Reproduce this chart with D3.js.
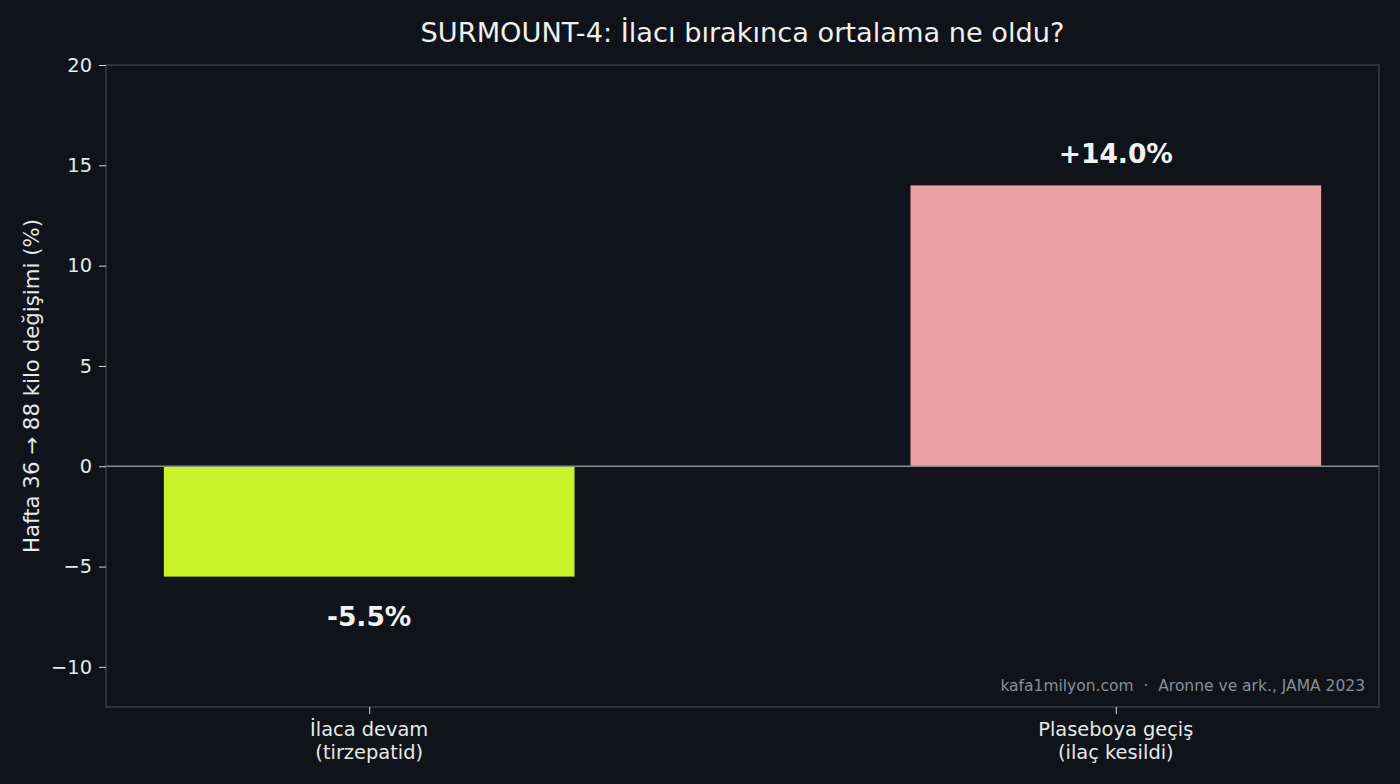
<!DOCTYPE html>
<html>
<head>
<meta charset="utf-8">
<script src="https://cdn.jsdelivr.net/npm/d3@7"></script>
<style>
  body { margin: 0; background: #10131a; }
  svg { display: block; font-family: "DejaVu Sans", sans-serif; }
</style>
</head>
<body>
<script>
// data
var categories = ["İlaca devam\n(tirzepatid)", "Plaseboya geçiş\n(ilaç kesildi)"];
var values = [-5.5, 14.0];
var barColors = ["#c9f229", "#e8a0a0"];
var valueLabels = ["-5.5%", "+14.0%"];
var yTicks = [-10, -5, 0, 5, 10, 15, 20];

var width = 1400, height = 784;
var border = { top: 65, bottom: 77, left: 106, right: 21 };

var svg = d3.select("body").append("svg")
  .attr("width", width)
  .attr("height", height);

svg.append("rect")
  .attr("width", width).attr("height", height)
  .attr("fill", "#10131a");

var plotW = width - border.left - border.right,
    plotH = height - border.top - border.bottom;

var g = svg.append("g")
  .attr("transform", "translate(" + border.left + "," + border.top + ")");

// x positions 0 and 1 like matplotlib, with its 5% margin around the bars
var barWidth = 0.55;
var lo = -barWidth / 2, hi = 1 + barWidth / 2, pad = (hi - lo) * 0.05;
var scaleX = d3.scaleLinear().domain([lo - pad, hi + pad]).range([0, plotW]);
var scaleY = d3.scaleLinear().domain([-12, 20]).range([plotH, 0]);

// bars
g.selectAll("rect.bar")
  .data(values)
  .enter().append("rect")
  .attr("class", "bar")
  .attr("x", (d, i) => scaleX(i - barWidth / 2))
  .attr("width", scaleX(barWidth) - scaleX(0))
  .attr("y", d => scaleY(Math.max(0, d)))
  .attr("height", d => Math.abs(scaleY(d) - scaleY(0)))
  .attr("fill", (d, i) => barColors[i]);

// zero line
g.append("line")
  .attr("x1", 0).attr("x2", plotW)
  .attr("y1", scaleY(0)).attr("y2", scaleY(0))
  .attr("stroke", "#8c8c8c")
  .attr("stroke-width", 1.5);

// value labels
g.selectAll("text.val")
  .data(values)
  .enter().append("text")
  .attr("class", "val")
  .attr("x", (d, i) => scaleX(i))
  .attr("y", d => d >= 0 ? scaleY(d) - 22 : scaleY(d) + 49)
  .attr("text-anchor", "middle")
  .attr("fill", "#f2f2f2")
  .style("font-weight", "bold")
  .style("font-size", "26.5px")
  .text((d, i) => valueLabels[i]);

// frame
g.append("rect")
  .attr("width", plotW).attr("height", plotH)
  .attr("fill", "none")
  .attr("stroke", "#3b3e47")
  .attr("stroke-width", 1.5);

// y axis
var yAxis = d3.axisLeft(scaleY)
  .tickValues(yTicks)
  .tickSize(7)
  .tickPadding(7)
  .tickFormat(d => d < 0 ? "\u2212" + Math.abs(d) : d);
var ya = g.append("g").attr("class", "y axis").call(yAxis);
ya.select(".domain").remove();
ya.selectAll("line").attr("stroke", "#d8d8d8");
ya.selectAll("text")
  .attr("fill", "#e8e8e8")
  .style("font-size", "19.4px")
  .style("font-family", "DejaVu Sans");

// x axis
var xAxis = d3.axisBottom(scaleX)
  .tickValues([0, 1])
  .tickSize(7)
  .tickFormat("");
var xa = g.append("g").attr("class", "x axis")
  .attr("transform", "translate(0," + plotH + ")")
  .call(xAxis);
xa.select(".domain").remove();
xa.selectAll("line").attr("stroke", "#d8d8d8");

// x tick labels, two lines each
var xl = g.selectAll("text.xlab")
  .data(categories)
  .enter().append("text")
  .attr("class", "xlab")
  .attr("text-anchor", "middle")
  .attr("fill", "#e8e8e8")
  .style("font-size", "19.4px");
xl.each(function (d, i) {
  var lines = d.split("\n");
  var t = d3.select(this);
  lines.forEach(function (s, k) {
    t.append("tspan")
      .attr("x", scaleX(i))
      .attr("y", plotH + 29 + k * 22.5)
      .text(s);
  });
});

// y axis title
svg.append("text")
  .attr("transform", "rotate(-90)")
  .attr("x", -(border.top + plotH / 2))
  .attr("y", 39)
  .attr("text-anchor", "middle")
  .attr("fill", "#e8e8e8")
  .style("font-size", "21.3px")
  .text("Hafta 36 \u2192 88 kilo değişimi (%)");

// title
svg.append("text")
  .attr("x", border.left + plotW / 2)
  .attr("y", 42)
  .attr("text-anchor", "middle")
  .attr("fill", "#f0f0f0")
  .style("font-size", "27.2px")
  .text("SURMOUNT-4: İlacı bırakınca ortalama ne oldu?");

// source note
svg.append("text")
  .attr("x", border.left + plotW - 14)
  .attr("y", border.top + plotH - 16)
  .attr("text-anchor", "end")
  .attr("fill", "#8b8e97")
  .style("font-size", "15.5px")
  .style("white-space", "pre")
  .text("kafa1milyon.com  \u00b7  Aronne ve ark., JAMA 2023");
</script>
</body>
</html>
